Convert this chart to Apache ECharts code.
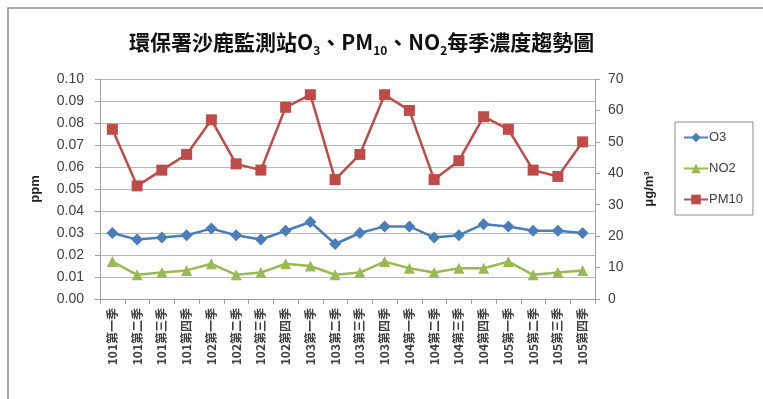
<!DOCTYPE html>
<html>
<head>
<meta charset="utf-8">
<script src="https://cdn.jsdelivr.net/npm/echarts@6/dist/echarts.min.js"></script>
<style>
  html, body { margin: 0; padding: 0; background: #ffffff; }
  #chart { width: 763px; height: 399px; }
</style>
</head>
<body>
<div id="chart"></div>
<script>
// Quarterly labels, ROC years 101–105
const categories = [
  '101第一季', '101第二季', '101第三季', '101第四季',
  '102第一季', '102第二季', '102第三季', '102第四季',
  '103第一季', '103第二季', '103第三季', '103第四季',
  '104第一季', '104第二季', '104第三季', '104第四季',
  '105第一季', '105第二季', '105第三季', '105第四季'
];

// O3 (ppm)
const o3 = [0.030, 0.027, 0.028, 0.029, 0.032, 0.029, 0.027, 0.031, 0.035, 0.025,
            0.030, 0.033, 0.033, 0.028, 0.029, 0.034, 0.033, 0.031, 0.031, 0.030];

// NO2 (ppm)
const no2 = [0.017, 0.011, 0.012, 0.013, 0.016, 0.011, 0.012, 0.016, 0.015, 0.011,
             0.012, 0.017, 0.014, 0.012, 0.014, 0.014, 0.017, 0.011, 0.012, 0.013];

// PM10 (μg/m3)
const pm10 = [54, 36, 41, 46, 57, 43, 41, 61, 65, 38,
              46, 65, 60, 38, 44, 58, 54, 41, 39, 50];

const ppmTicks = { min: 0, max: 0.10, interval: 0.01 };
const ugTicks = { min: 0, max: 70, interval: 10 };

const chart = echarts.init(document.getElementById('chart'));

const tickFont = { fontFamily: 'Liberation Sans', fontSize: 14, color: '#404040' };

chart.setOption({
  backgroundColor: '#ffffff',
  animation: false,
  graphic: [{
    type: 'rect',
    shape: { x: 8, y: 8, width: 800, height: 420 },
    style: { fill: 'none', stroke: '#8c8c8c', lineWidth: 1.5 },
    silent: true
  }],
  title: {
    text: '{n|環保署沙鹿監測站O}{s|3}{n|、PM}{s|10}{n|、NO}{s|2}{n|每季濃度趨勢圖}',
    left: 124,
    top: 21,
    textStyle: {
      rich: {
        n: { fontFamily: 'Noto Sans CJK TC', fontSize: 21, fontWeight: 'bold', color: '#111', lineHeight: 27, verticalAlign: 'bottom' },
        s: { fontFamily: 'Noto Sans CJK TC', fontSize: 12, fontWeight: 'bold', color: '#111', lineHeight: 27, verticalAlign: 'bottom', padding: [0, 0, -3, 0] }
      }
    }
  },
  legend: {
    orient: 'vertical',
    left: 675,
    top: 122,
    width: 85,
    padding: [9, 10, 9, 8],
    itemGap: 18,
    itemWidth: 24,
    itemHeight: 12,
    borderColor: '#8c8c8c',
    borderWidth: 1,
    textStyle: { fontFamily: 'Liberation Sans', fontSize: 13, color: '#404040', padding: [0, 0, 0, -4] },
    data: ['O3', 'NO2', 'PM10']
  },
  grid: { left: 100, right: 168, top: 79, bottom: 100 },
  xAxis: {
    type: 'category',
    data: categories,
    boundaryGap: true,
    axisLine: { lineStyle: { color: '#a0a0a0', width: 1 } },
    axisTick: { show: true, alignWithLabel: false, length: 5, lineStyle: { color: '#a0a0a0' } },
    axisLabel: {
      interval: 0,
      rotate: 90,
      margin: 9,
      fontFamily: 'Noto Sans CJK TC',
      fontSize: 12,
      fontWeight: 'bold',
      color: '#404040'
    }
  },
  yAxis: [{
    type: 'value',
    min: ppmTicks.min,
    max: ppmTicks.max,
    interval: ppmTicks.interval,
    name: 'ppm',
    nameLocation: 'middle',
    nameRotate: 90,
    nameGap: 58,
    nameTextStyle: { fontFamily: 'Liberation Sans', fontSize: 13, fontWeight: 'bold', color: '#222' },
    axisLine: { show: true, lineStyle: { color: '#a0a0a0' } },
    axisTick: { show: true, length: 5, lineStyle: { color: '#a0a0a0' } },
    axisLabel: Object.assign({ margin: 16, formatter: v => v.toFixed(2) }, tickFont),
    splitLine: { show: true, lineStyle: { color: '#b8b8b8', width: 1 } }
  }, {
    type: 'value',
    min: ugTicks.min,
    max: ugTicks.max,
    interval: ugTicks.interval,
    position: 'right',
    name: 'μg/m³',
    nameLocation: 'middle',
    nameRotate: 90,
    nameGap: 48,
    nameTextStyle: { fontFamily: 'Liberation Sans', fontSize: 13, fontWeight: 'bold', color: '#222' },
    axisLine: { show: true, lineStyle: { color: '#a0a0a0' } },
    axisTick: { show: true, length: 5, lineStyle: { color: '#a0a0a0' } },
    axisLabel: Object.assign({ margin: 13 }, tickFont),
    splitLine: { show: false }
  }],
  series: [{
    name: 'O3',
    type: 'line',
    yAxisIndex: 0,
    data: o3,
    symbol: 'diamond',
    symbolSize: 12,
    color: '#4a7ebb',
    lineStyle: { width: 2.5, color: '#4a7ebb' },
    itemStyle: { color: '#4a7ebb' }
  }, {
    name: 'NO2',
    type: 'line',
    yAxisIndex: 0,
    data: no2,
    symbol: 'triangle',
    symbolSize: 11,
    color: '#98b954',
    lineStyle: { width: 2.5, color: '#98b954' },
    itemStyle: { color: '#98b954' }
  }, {
    name: 'PM10',
    type: 'line',
    yAxisIndex: 1,
    data: pm10,
    symbol: 'rect',
    symbolSize: 11,
    color: '#be4b48',
    lineStyle: { width: 2.5, color: '#be4b48' },
    itemStyle: { color: '#be4b48' }
  }]
});
</script>
</body>
</html>
